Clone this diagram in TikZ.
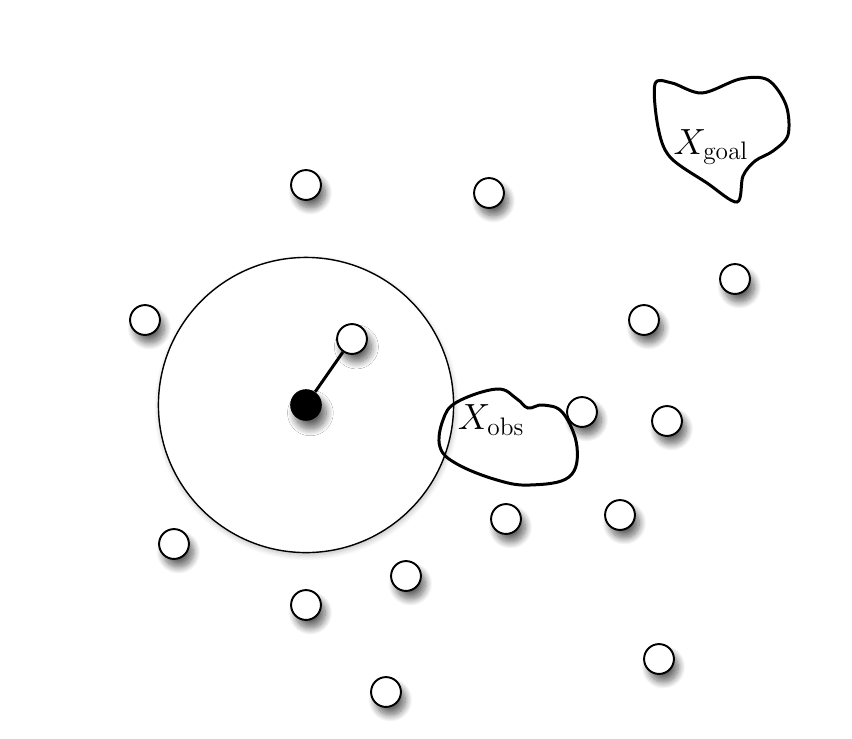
\documentclass[tikz,border=0pt]{standalone}
\usepackage{amsmath,amssymb}
\usepackage{xcolor}
\usepackage{tikz}
\usetikzlibrary{shadows.blur,calc}
\definecolor{ink}{HTML}{000000}
\tikzset{
  sample/.style={circle, draw=ink, fill=white, line width=1.1pt, minimum size=17pt, inner sep=0pt,
    blur shadow={shadow xshift=2.5pt, shadow yshift=-4.5pt, shadow blur steps=12, shadow blur radius=4pt, shadow opacity=60}},
  current/.style={circle, fill=ink, minimum size=18pt, inner sep=0pt,
    blur shadow={shadow xshift=2.5pt, shadow yshift=-4.5pt, shadow blur steps=12, shadow blur radius=4pt, shadow opacity=60}},
  ball/.style={circle, draw=ink, fill=white, line width=0.8pt, minimum size=168pt, inner sep=0pt,
    blur shadow={shadow xshift=0.5pt, shadow yshift=-1.5pt, shadow blur steps=8, shadow blur radius=3pt, shadow opacity=25}},
  region/.style={draw=ink, line width=1.7pt},
  edge/.style={draw=ink, line width=1.7pt},
  setlabel/.style={font=\huge, inner sep=0pt}
}

\begin{document}
\begin{tikzpicture}[x=0.02cm,y=-0.02cm]
  \useasboundingbox (0,0) rectangle (852,738);

  % neighbourhood of the current vertex
  \node[ball] (nbhd) at (306,405) {};

  % obstacle and goal regions
  \draw[region] plot[smooth cycle, tension=0.65] coordinates {(443,420) (457,402) (497,389) (517,399) (528,408) (543,405) (563,413) (577,447) (569,477) (530,485) (497,480) (457,464) (440,447)};
  \draw[region] plot[smooth cycle, tension=0.55] coordinates {(655,84) (672,83) (702,93) (740,79) (768,80) (786,105) (788,135) (773,151) (755,161) (743,176) (737,202) (707,183) (670,157) (658,127)};
  \node[setlabel] (obs) at (491,420) {$X_{\mathrm{obs}}$};
  \node[setlabel] (goal) at (711,147) {$X_{\mathrm{goal}}$};

  % sampled vertices
  \foreach \name/\x/\y in {s1/306/185, s2/489/193, s3/145/320, s5/644/320, s6/735/279,
      s7/582/412, s8/667/421, s9/506/519, s10/620/515, s11/174/544, s12/406/576,
      s13/306/605, s14/659/659, s15/386/692} {
    \node[sample] (\name) at (\x,\y) {};
  }
  \node[sample] (near) at (352,339) {};
  \node[current] (xnew) at (306,405) {};

  \draw[edge] (xnew) -- (near);
\end{tikzpicture}
\end{document}
